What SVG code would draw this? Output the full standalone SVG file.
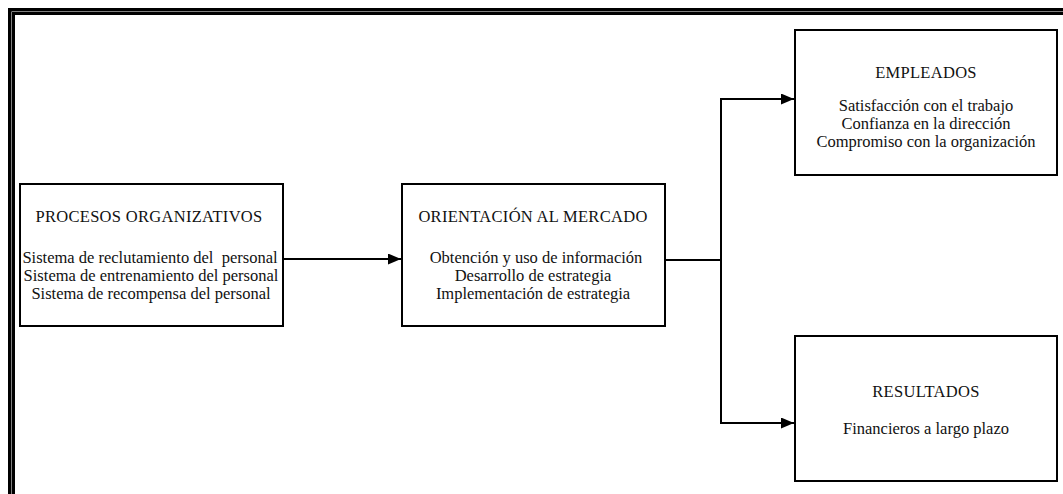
<svg xmlns="http://www.w3.org/2000/svg" width="1063" height="494" viewBox="0 0 1063 494">
  <style>
    .box { fill: #ffffff; stroke: #000000; stroke-width: 2; }
    .frame { fill: none; stroke: #000000; }
    .link { fill: none; stroke: #000000; stroke-width: 2; }
    text { font-family: "Liberation Serif", "Times New Roman", serif; font-size: 16.5px; fill: #111111; text-anchor: middle; }
    .title { letter-spacing: 0.3px; }
  </style>
  <defs>
    <marker id="arrow" markerWidth="13" markerHeight="11" refX="13" refY="5.5" orient="auto" markerUnits="userSpaceOnUse">
      <path d="M0,0 L13,5.5 L0,11 Z" fill="#000000"/>
    </marker>
  </defs>

  <rect width="1063" height="494" fill="#ffffff"/>

  <!-- double page border, left and top -->
  <path class="frame" stroke-width="3.5" d="M9.75,494 V9.75 H1063"/>
  <path class="frame" stroke-width="3" d="M13.5,494 V13.5 H1063"/>

  <g id="connectors">
    <path class="link" d="M284,259 H401" marker-end="url(#arrow)"/>
    <path class="link" d="M666,260 H721"/>
    <path class="link" d="M721,99 V423"/>
    <path class="link" d="M720,99 H794" marker-end="url(#arrow)"/>
    <path class="link" d="M720,423 H794" marker-end="url(#arrow)"/>
  </g>

  <g id="procesos">
    <rect class="box" x="20" y="184" width="263" height="142"/>
    <text class="title" x="149" y="222">PROCESOS ORGANIZATIVOS</text>
    <text x="150" y="263" xml:space="preserve">Sistema de reclutamiento del  personal</text>
    <text x="151" y="281">Sistema de entrenamiento del personal</text>
    <text x="151" y="299">Sistema de recompensa del personal</text>
  </g>

  <g id="orientacion">
    <rect class="box" x="402" y="184" width="263" height="142"/>
    <text class="title" x="533" y="222">ORIENTACIÓN AL MERCADO</text>
    <text x="536" y="263">Obtención y uso de información</text>
    <text x="533" y="281">Desarrollo de estrategia</text>
    <text x="533" y="299">Implementación de estrategia</text>
  </g>

  <g id="empleados">
    <rect class="box" x="795" y="30" width="262" height="145"/>
    <text class="title" x="926" y="78">EMPLEADOS</text>
    <text x="926" y="111">Satisfacción con el trabajo</text>
    <text x="926" y="129">Confianza en la dirección</text>
    <text x="926" y="147">Compromiso con la organización</text>
  </g>

  <g id="resultados">
    <rect class="box" x="795" y="336" width="262" height="145"/>
    <text class="title" x="926" y="397">RESULTADOS</text>
    <text x="926" y="434">Financieros a largo plazo</text>
  </g>
</svg>
